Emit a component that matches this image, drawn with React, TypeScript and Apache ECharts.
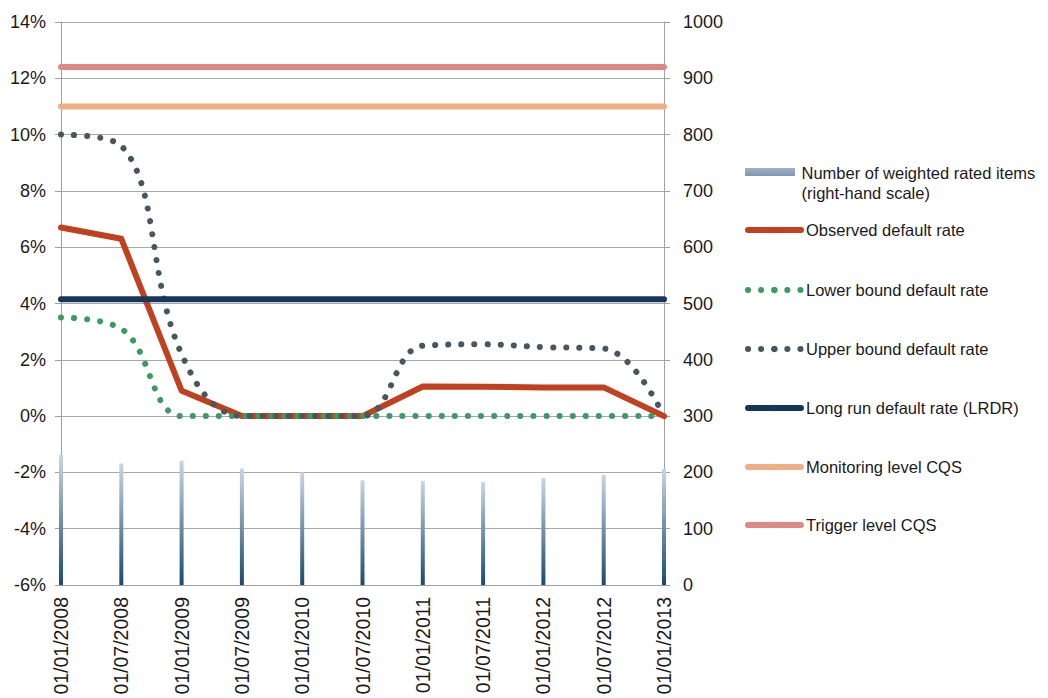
import React, { useEffect, useRef } from "react";
import * as echarts from "echarts";

const categories = [
  "01/01/2008", "01/07/2008", "01/01/2009", "01/07/2009", "01/01/2010", "01/07/2010",
  "01/01/2011", "01/07/2011", "01/01/2012", "01/07/2012", "01/01/2013",
];
const weightedItems = [231, 216, 221, 207, 200, 186, 185, 183, 190, 196, 206];
const observedRate = [6.7, 6.3, 0.9, 0, 0, 0, 1.05, 1.04, 1.02, 1.02, 0];
const lowerBound = [3.5, 3.1, 0, 0, 0, 0, 0, 0, 0, 0, 0];
const upperBound = [10, 9.6, 2.2, 0, 0, 0, 2.5, 2.55, 2.45, 2.4, 0];
const lrdr = [4.15, 4.15, 4.15, 4.15, 4.15, 4.15, 4.15, 4.15, 4.15, 4.15, 4.15];
const monitoringLevel = [11, 11, 11, 11, 11, 11, 11, 11, 11, 11, 11];
const triggerLevel = [12.4, 12.4, 12.4, 12.4, 12.4, 12.4, 12.4, 12.4, 12.4, 12.4, 12.4];
const leftTicks = { min: -6, max: 14, interval: 2 };
const rightTicks = { min: 0, max: 1000, interval: 100 };

const NAMES = {
  items: "Number of weighted rated items (right-hand scale)",
  observed: "Observed default rate",
  lower: "Lower bound default rate",
  upper: "Upper bound default rate",
  lrdr: "Long run default rate (LRDR)",
  monitoring: "Monitoring level CQS",
  trigger: "Trigger level CQS",
};

const FONT = "'Liberation Sans', Arial, sans-serif";
const TEXT = "#1a1a1a";
const AXIS = "#a0a0a0";

export default function App() {
  const ref = useRef<HTMLDivElement>(null);

  useEffect(() => {
    if (!ref.current) return;
    const chart = echarts.init(ref.current, undefined, { renderer: "svg" });

    const barGradient = new echarts.graphic.LinearGradient(0, 0, 0, 1, [
      { offset: 0, color: "#c9d6e3" },
      { offset: 1, color: "#1b4a6e" },
    ]);
    const legendGradient = new echarts.graphic.LinearGradient(0, 0, 0, 1, [
      { offset: 0, color: "#9fb2c6" },
      { offset: 1, color: "#264f72" },
    ]);

    const legendText = { fontFamily: FONT, fontSize: 16.5, color: TEXT, lineHeight: 20 };
    const mkLegend = (name: string, top: number, extra: any = {}) => ({
      data: [name],
      left: 740,
      top,
      orient: "vertical",
      itemWidth: 53,
      itemHeight: 8,
      selectedMode: false,
      textStyle: legendText,
      lineStyle: { width: 6 },
      ...extra,
    });

    const dotted = (color: string) => ({
      color,
      width: 6,
      type: [0.1, 13],
      cap: "round",
    });

    const option: any = {
      animation: false,
      textStyle: { fontFamily: FONT },
      grid: { left: 61, right: 384, top: 22, bottom: 113, containLabel: false },
      legend: [
        mkLegend(NAMES.items, 158, {
          itemHeight: 30,
          icon: "path://M0,0L50,0L50,8L0,8Z M0,30L50,30",
          itemStyle: { color: legendGradient },
          formatter: () => "Number of weighted rated items\n(right-hand scale)",
        }),
        mkLegend(NAMES.observed, 215),
        mkLegend(NAMES.lower, 275),
        mkLegend(NAMES.upper, 334),
        mkLegend(NAMES.lrdr, 393),
        mkLegend(NAMES.monitoring, 452),
        mkLegend(NAMES.trigger, 510),
      ],
      xAxis: {
        type: "category",
        data: categories,
        boundaryGap: false,
        axisLine: { show: true, onZero: false, lineStyle: { color: AXIS, width: 1 } },
        axisTick: { show: false },
        splitLine: { show: false },
        axisLabel: {
          rotate: 90,
          interval: 0,
          margin: 12,
          fontFamily: FONT,
          fontSize: 19.5,
          color: TEXT,
        },
      },
      yAxis: [
        {
          type: "value",
          position: "left",
          ...leftTicks,
          axisLine: { show: true, lineStyle: { color: AXIS, width: 1 } },
          axisTick: { show: true, length: 6, lineStyle: { color: AXIS } },
          splitLine: { show: true, lineStyle: { color: "#a8a8a8", width: 1 } },
          axisLabel: {
            formatter: "{value}%",
            margin: 15,
            fontFamily: FONT,
            fontSize: 18,
            color: TEXT,
          },
        },
        {
          type: "value",
          position: "right",
          ...rightTicks,
          axisLine: { show: true, lineStyle: { color: AXIS, width: 1 } },
          axisTick: { show: true, length: 6, lineStyle: { color: AXIS } },
          splitLine: { show: false },
          axisLabel: {
            margin: 19,
            formatter: (v: number) => String(v),
            fontFamily: FONT,
            fontSize: 18,
            color: TEXT,
          },
        },
      ],
      series: [
        {
          name: NAMES.items,
          type: "bar",
          yAxisIndex: 1,
          data: weightedItems,
          barWidth: 4,
          itemStyle: { color: barGradient },
          z: 2,
        },
        {
          name: NAMES.observed,
          type: "line",
          data: observedRate,
          symbol: "none",
          lineStyle: { color: "#c0411f", width: 6, cap: "round", join: "round" },
          itemStyle: { color: "#c0411f" },
          z: 3,
        },
        {
          name: NAMES.lower,
          type: "line",
          data: lowerBound,
          symbol: "none",
          smooth: 0.4,
          lineStyle: dotted("#3d9a62"),
          itemStyle: { color: "#3d9a62" },
          z: 3,
        },
        {
          name: NAMES.upper,
          type: "line",
          data: upperBound,
          symbol: "none",
          smooth: 0.4,
          lineStyle: dotted("#46575f"),
          itemStyle: { color: "#46575f" },
          z: 3,
        },
        {
          name: NAMES.lrdr,
          type: "line",
          data: lrdr,
          symbol: "none",
          lineStyle: { color: "#17365a", width: 6, cap: "round" },
          itemStyle: { color: "#17365a" },
          z: 3,
        },
        {
          name: NAMES.monitoring,
          type: "line",
          data: monitoringLevel,
          symbol: "none",
          lineStyle: { color: "#f0ae85", width: 6, cap: "round" },
          itemStyle: { color: "#f0ae85" },
          z: 3,
        },
        {
          name: NAMES.trigger,
          type: "line",
          data: triggerLevel,
          symbol: "none",
          lineStyle: { color: "#dc8b83", width: 6, cap: "round" },
          itemStyle: { color: "#dc8b83" },
          z: 3,
        },
      ],
    };

    chart.setOption(option);
    return () => chart.dispose();
  }, []);

  return (
    <div
      ref={ref}
      style={{ position: "fixed", left: 0, top: 0, width: 1048, height: 698, background: "#fff" }}
    />
  );
}
